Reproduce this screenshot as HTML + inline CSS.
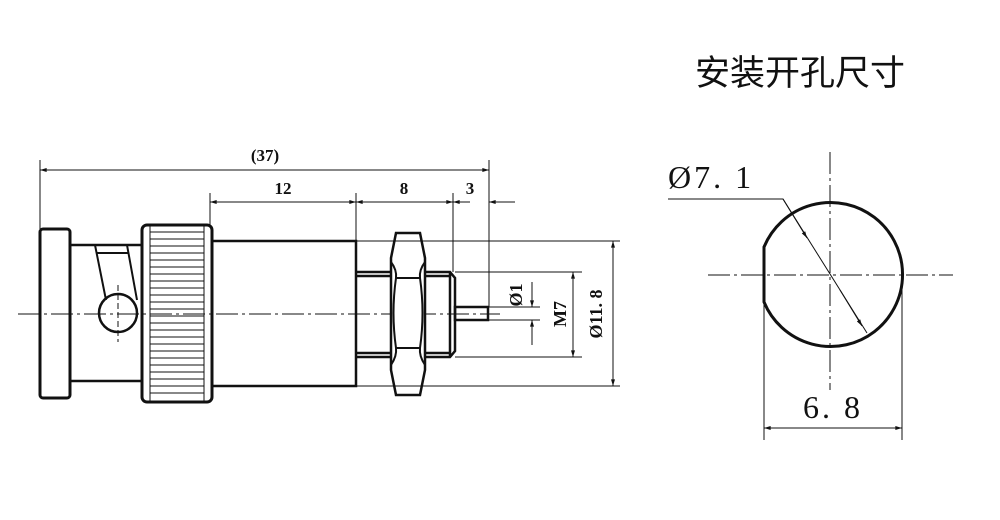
<!DOCTYPE html>
<html><head><meta charset="utf-8"><style>
html,body{margin:0;padding:0;background:#fff;}
svg{display:block}
text{font-family:"Liberation Serif","Noto Serif CJK SC",serif;fill:#111}
</style></head><body>
<svg width="1000" height="520" viewBox="0 0 1000 520" xmlns="http://www.w3.org/2000/svg">
<defs>
<marker id="a" viewBox="0 0 10 6" refX="10" refY="3" markerWidth="10" markerHeight="4" orient="auto-start-reverse" markerUnits="userSpaceOnUse"><path d="M0,0 L10,3 L0,6z" fill="#111"/></marker>
</defs>
<g stroke="#111" fill="none">
<line x1="18" y1="314" x2="500" y2="314" stroke-width="1" stroke-dasharray="22,4,3,4"/>
<rect x="40" y="229" width="30" height="169" rx="3" stroke-width="3"/>
<path d="M70 245 H143 M70 381 H143" stroke-width="2.5"/>
<path d="M95 245 L106 300 M127 245 L137 300 M97 253 H128" stroke-width="2"/>
<circle cx="118" cy="313" r="19" stroke-width="2.5"/>
<line x1="118" y1="285" x2="118" y2="342" stroke-width="1" stroke-dasharray="6,3"/>
<rect x="142" y="225" width="70" height="177" rx="5" stroke-width="3"/>
<g stroke-width="1">
<line x1="150" y1="226" x2="150" y2="401"/><line x1="204" y1="226" x2="204" y2="401"/>
<line x1="150" y1="232" x2="204" y2="232"/><line x1="150" y1="239" x2="204" y2="239"/><line x1="150" y1="246" x2="204" y2="246"/><line x1="150" y1="253" x2="204" y2="253"/><line x1="150" y1="260" x2="204" y2="260"/><line x1="150" y1="267" x2="204" y2="267"/><line x1="150" y1="274" x2="204" y2="274"/><line x1="150" y1="281" x2="204" y2="281"/><line x1="150" y1="288" x2="204" y2="288"/><line x1="150" y1="295" x2="204" y2="295"/><line x1="150" y1="302" x2="204" y2="302"/><line x1="150" y1="309" x2="204" y2="309"/><line x1="150" y1="316" x2="204" y2="316"/><line x1="150" y1="323" x2="204" y2="323"/><line x1="150" y1="330" x2="204" y2="330"/><line x1="150" y1="337" x2="204" y2="337"/><line x1="150" y1="344" x2="204" y2="344"/><line x1="150" y1="351" x2="204" y2="351"/><line x1="150" y1="358" x2="204" y2="358"/><line x1="150" y1="365" x2="204" y2="365"/><line x1="150" y1="372" x2="204" y2="372"/><line x1="150" y1="379" x2="204" y2="379"/><line x1="150" y1="386" x2="204" y2="386"/><line x1="150" y1="393" x2="204" y2="393"/>
</g>
<path d="M212 241 H356 V386 H212" stroke-width="2.5"/>
<path d="M356 272 H450 L455 278 V351 L450 357 H356 M356 276 H450 M356 353 H450 M450 272 V357" stroke-width="2.5"/>
<!-- nut -->
<path d="M396 233 H420 L425 258 V370 L420 395 H396 L391 370 V258 Z" fill="#fff" stroke-width="2.5"/>
<path d="M391 262 Q397 270 396 278 Q391 313 396 348 Q397 356 391 365 M425 262 Q419 270 420 278 Q425 313 420 348 Q419 356 425 365" stroke-width="2"/>
<path d="M396 278 H420 M396 348 H420" stroke-width="2"/>
<rect x="455" y="307" width="33" height="13" stroke-width="2.5"/>
<g stroke-width="1">
<line x1="40" y1="160" x2="40" y2="229"/>
<line x1="489" y1="160" x2="489" y2="307"/>
<line x1="40" y1="170" x2="489" y2="170" marker-start="url(#a)" marker-end="url(#a)"/>
<line x1="210" y1="193" x2="210" y2="225"/>
<line x1="356" y1="193" x2="356" y2="241"/>
<line x1="453" y1="193" x2="453" y2="272"/>
<line x1="210" y1="202" x2="356" y2="202" marker-start="url(#a)" marker-end="url(#a)"/>
<line x1="356" y1="202" x2="453" y2="202" marker-start="url(#a)" marker-end="url(#a)"/>
<line x1="453" y1="202" x2="470" y2="202" marker-start="url(#a)"/>
<line x1="489" y1="202" x2="515" y2="202" marker-start="url(#a)"/>
<line x1="356" y1="241" x2="620" y2="241"/>
<line x1="356" y1="386" x2="620" y2="386"/>
<line x1="613" y1="241" x2="613" y2="386" marker-start="url(#a)" marker-end="url(#a)"/>
<line x1="455" y1="272" x2="582" y2="272"/>
<line x1="455" y1="357" x2="582" y2="357"/>
<line x1="573" y1="272" x2="573" y2="357" marker-start="url(#a)" marker-end="url(#a)"/>
<line x1="488" y1="307" x2="540" y2="307"/>
<line x1="488" y1="320" x2="540" y2="320"/>
<line x1="532" y1="282" x2="532" y2="307" marker-end="url(#a)"/>
<line x1="532" y1="345" x2="532" y2="320" marker-end="url(#a)"/>
</g>
<line x1="830" y1="152" x2="830" y2="390" stroke-width="1" stroke-dasharray="22,4,3,4"/>
<line x1="708" y1="275" x2="953" y2="275" stroke-width="1" stroke-dasharray="22,4,3,4"/>
<path d="M764 247 A72 72 0 1 1 764 302 Z" stroke-width="3"/>
<path d="M668 199 H783 L867 333" stroke-width="1"/>
<line x1="783" y1="199" x2="807" y2="238" stroke-width="1" marker-end="url(#a)"/>
<line x1="840" y1="290" x2="862" y2="326" stroke-width="1" marker-end="url(#a)"/>
<line x1="764" y1="302" x2="764" y2="440" stroke-width="1"/>
<line x1="902" y1="280" x2="902" y2="440" stroke-width="1"/>
<line x1="764" y1="428" x2="902" y2="428" stroke-width="1" marker-start="url(#a)" marker-end="url(#a)"/>
</g>
<g font-weight="bold" font-size="17" text-anchor="middle">
<text x="265" y="161">(37)</text>
<text x="283" y="194">12</text>
<text x="404" y="194">8</text>
<text x="470" y="194">3</text>
</g>
<g font-size="18" font-weight="bold" text-anchor="middle">
<text transform="translate(602,314) rotate(-90)">Ø11. 8</text>
<text transform="translate(566,314) rotate(-90)">M7</text>
<text transform="translate(522,295) rotate(-90)">Ø1</text>
</g>
<text x="668" y="188" font-size="32" letter-spacing="3">Ø7. 1</text>
<text x="833" y="418" font-size="32" text-anchor="middle" letter-spacing="3">6. 8</text>
<text x="800" y="85" font-size="35" text-anchor="middle" style="font-family:'Noto Sans CJK SC',sans-serif">安装开孔尺寸</text>
</svg>
</body></html>
